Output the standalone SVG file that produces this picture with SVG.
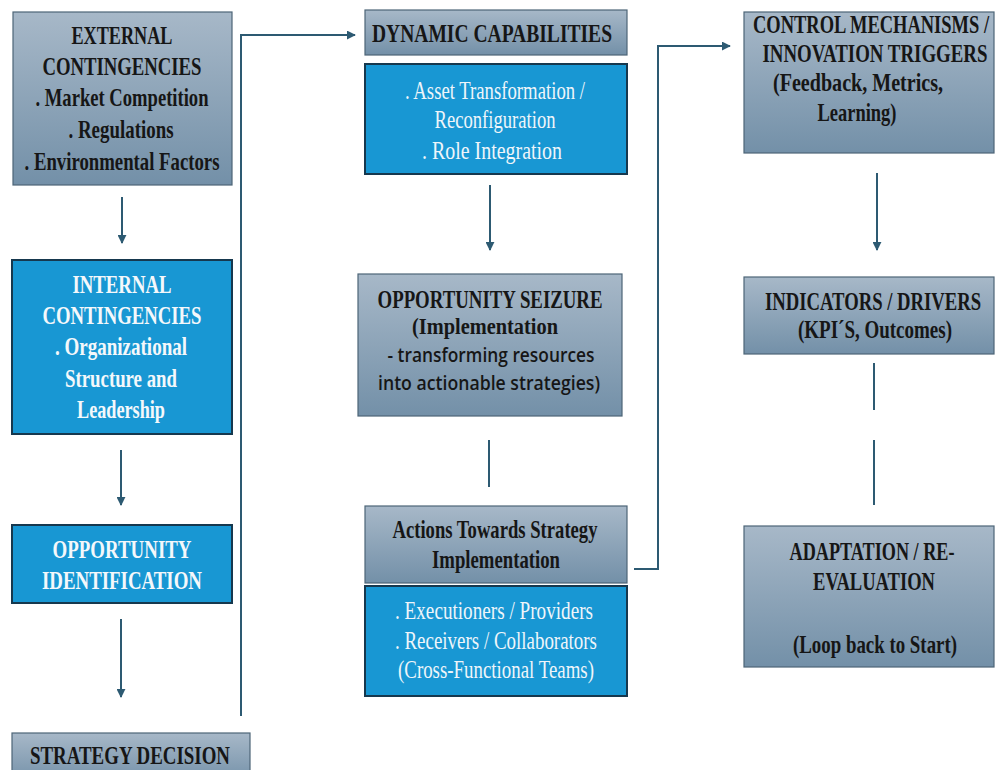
<svg xmlns="http://www.w3.org/2000/svg" width="995" height="770" viewBox="0 0 995 770">
  <style>
    .grey { fill: url(#greyFill); stroke: #4d6577; stroke-width: 1.2; }
    .blue { fill: #1897d3; stroke: #16384e; stroke-width: 2; }
    .dk { font-family: "Liberation Serif", "Times New Roman", serif; font-weight: bold; font-size: 26px; fill: #161616; text-anchor: middle; }
    .dks { font-family: "Liberation Serif", "Times New Roman", serif; font-weight: bold; font-size: 24px; fill: #161616; text-anchor: middle; }
    .wh { font-family: "Liberation Serif", "Times New Roman", serif; font-weight: bold; font-size: 26px; fill: #f4f8fb; text-anchor: middle; }
    .whr { font-family: "Liberation Serif", "Times New Roman", serif; font-size: 25px; fill: #eef5fa; text-anchor: middle; }
    .sans { font-family: "Open Sans", "Liberation Sans", sans-serif; font-weight: 600; font-size: 20px; fill: #161616; text-anchor: middle; }
    .conn { fill: none; stroke: #2d5a72; stroke-width: 2; }
  </style>
  <defs>
    <linearGradient id="greyFill" x1="0" y1="0" x2="0" y2="1">
      <stop offset="0" stop-color="#a7b8c8"/>
      <stop offset="1" stop-color="#7390a8"/>
    </linearGradient>
    <marker id="head" viewBox="0 0 10 10" refX="9" refY="5" markerWidth="4.5" markerHeight="4.5" orient="auto" markerUnits="strokeWidth">
      <path d="M0,0 L10,5 L0,10 z" fill="#2d5a72"/>
    </marker>
  </defs>
  <rect width="995" height="770" fill="#ffffff"/>

  <!-- connectors -->
  <g id="connectors">
    <line class="conn" x1="122" y1="197" x2="122" y2="243" marker-end="url(#head)"/>
    <line class="conn" x1="121" y1="450" x2="121" y2="505" marker-end="url(#head)"/>
    <line class="conn" x1="121" y1="619" x2="121" y2="697" marker-end="url(#head)"/>
    <polyline class="conn" points="241,716 241,35 355,35" marker-end="url(#head)"/>
    <line class="conn" x1="490" y1="185" x2="490" y2="250" marker-end="url(#head)"/>
    <line class="conn" x1="489" y1="440" x2="489" y2="487"/>
    <polyline class="conn" points="634,569 658,569 658,46 730,46" marker-end="url(#head)"/>
    <line class="conn" x1="877" y1="173" x2="877" y2="250" marker-end="url(#head)"/>
    <line class="conn" x1="874" y1="363" x2="874" y2="410"/>
    <line class="conn" x1="874" y1="440" x2="874" y2="505"/>
  </g>

  <!-- left column -->
  <g id="external">
    <rect class="grey" x="13" y="12" width="219" height="173"/>
    <text class="dk" x="122" y="44" textLength="101" lengthAdjust="spacingAndGlyphs">EXTERNAL</text>
    <text class="dk" x="122" y="75" textLength="159" lengthAdjust="spacingAndGlyphs">CONTINGENCIES</text>
    <text class="dk" x="122" y="106" textLength="173" lengthAdjust="spacingAndGlyphs">. Market Competition</text>
    <text class="dk" x="121" y="138" textLength="105" lengthAdjust="spacingAndGlyphs">. Regulations</text>
    <text class="dk" x="122" y="170" textLength="195" lengthAdjust="spacingAndGlyphs">. Environmental Factors</text>
  </g>
  <g id="internal">
    <rect class="blue" x="12" y="260" width="220" height="174"/>
    <text class="wh" x="122" y="293" textLength="99" lengthAdjust="spacingAndGlyphs">INTERNAL</text>
    <text class="wh" x="122" y="324" textLength="159" lengthAdjust="spacingAndGlyphs">CONTINGENCIES</text>
    <text class="wh" x="121" y="355" textLength="132" lengthAdjust="spacingAndGlyphs">. Organizational</text>
    <text class="wh" x="121" y="387" textLength="112" lengthAdjust="spacingAndGlyphs">Structure and</text>
    <text class="wh" x="121" y="418" textLength="88" lengthAdjust="spacingAndGlyphs">Leadership</text>
  </g>
  <g id="opportunity-identification">
    <rect class="blue" x="12" y="525" width="220" height="78"/>
    <text class="wh" x="122" y="558" textLength="139" lengthAdjust="spacingAndGlyphs">OPPORTUNITY</text>
    <text class="wh" x="122" y="589" textLength="160" lengthAdjust="spacingAndGlyphs">IDENTIFICATION</text>
  </g>
  <g id="strategy-decision">
    <rect class="grey" x="12" y="733" width="238" height="50"/>
    <text class="dk" x="130" y="764" textLength="200" lengthAdjust="spacingAndGlyphs">STRATEGY DECISION</text>
  </g>

  <!-- middle column -->
  <g id="dynamic-capabilities">
    <rect class="grey" x="365" y="10" width="262" height="45"/>
    <text class="dk" x="492" y="42" textLength="240" lengthAdjust="spacingAndGlyphs">DYNAMIC CAPABILITIES</text>
  </g>
  <g id="capability-items">
    <rect class="blue" x="365" y="64" width="262" height="110"/>
    <text class="whr" x="495" y="99" textLength="180" lengthAdjust="spacingAndGlyphs">. Asset Transformation /</text>
    <text class="whr" x="495" y="128" textLength="121" lengthAdjust="spacingAndGlyphs">Reconfiguration</text>
    <text class="whr" x="492" y="159" textLength="140" lengthAdjust="spacingAndGlyphs">. Role Integration</text>
  </g>
  <g id="opportunity-seizure">
    <rect class="grey" x="358" y="274" width="264" height="142"/>
    <text class="dk" x="490" y="308" textLength="225" lengthAdjust="spacingAndGlyphs">OPPORTUNITY SEIZURE</text>
    <text class="dks" x="485" y="334" textLength="146" lengthAdjust="spacingAndGlyphs">(Implementation</text>
    <text class="sans" x="491" y="362" textLength="207" lengthAdjust="spacingAndGlyphs">- transforming resources</text>
    <text class="sans" x="489" y="390" textLength="222" lengthAdjust="spacingAndGlyphs">into actionable strategies)</text>
  </g>
  <g id="actions">
    <rect class="grey" x="365" y="506" width="262" height="77"/>
    <text class="dk" x="495" y="538" textLength="205" lengthAdjust="spacingAndGlyphs">Actions Towards Strategy</text>
    <text class="dk" x="496" y="568" textLength="128" lengthAdjust="spacingAndGlyphs">Implementation</text>
  </g>
  <g id="action-roles">
    <rect class="blue" x="365" y="586" width="262" height="110"/>
    <text class="whr" x="494" y="619" textLength="198" lengthAdjust="spacingAndGlyphs">. Executioners / Providers</text>
    <text class="whr" x="496" y="649" textLength="202" lengthAdjust="spacingAndGlyphs">. Receivers / Collaborators</text>
    <text class="whr" x="496" y="678" textLength="196" lengthAdjust="spacingAndGlyphs">(Cross-Functional Teams)</text>
  </g>

  <!-- right column: lines drawn in a horizontally condensed frame -->
  <g id="control-mechanisms">
    <rect class="grey" x="744" y="12" width="250" height="141"/>
    <text class="dk" transform="translate(871,33) scale(0.72,1)" textLength="327.8" lengthAdjust="spacingAndGlyphs">CONTROL MECHANISMS /</text>
    <text class="dk" transform="translate(875,62) scale(0.72,1)" textLength="312.5" lengthAdjust="spacingAndGlyphs">INNOVATION TRIGGERS</text>
    <text class="dk" transform="translate(858,91) scale(0.72,1)" textLength="236.1" lengthAdjust="spacingAndGlyphs">(Feedback, Metrics,</text>
    <text class="dk" transform="translate(857,121) scale(0.72,1)" textLength="109.7" lengthAdjust="spacingAndGlyphs">Learning)</text>
  </g>
  <g id="indicators">
    <rect class="grey" x="744" y="277" width="250" height="77"/>
    <text class="dk" transform="translate(873,310) scale(0.72,1)" textLength="300" lengthAdjust="spacingAndGlyphs">INDICATORS / DRIVERS</text>
    <text class="dk" transform="translate(875,338) scale(0.72,1)" textLength="213.9" lengthAdjust="spacingAndGlyphs">(KPI´S, Outcomes)</text>
  </g>
  <g id="adaptation">
    <rect class="grey" x="744" y="526" width="250" height="141"/>
    <text class="dk" transform="translate(872,560) scale(0.72,1)" textLength="229.2" lengthAdjust="spacingAndGlyphs">ADAPTATION / RE-</text>
    <text class="dk" transform="translate(874,590) scale(0.72,1)" textLength="169.4" lengthAdjust="spacingAndGlyphs">EVALUATION</text>
    <text class="dk" transform="translate(875,653) scale(0.72,1)" textLength="227.8" lengthAdjust="spacingAndGlyphs">(Loop back to Start)</text>
  </g>
</svg>
